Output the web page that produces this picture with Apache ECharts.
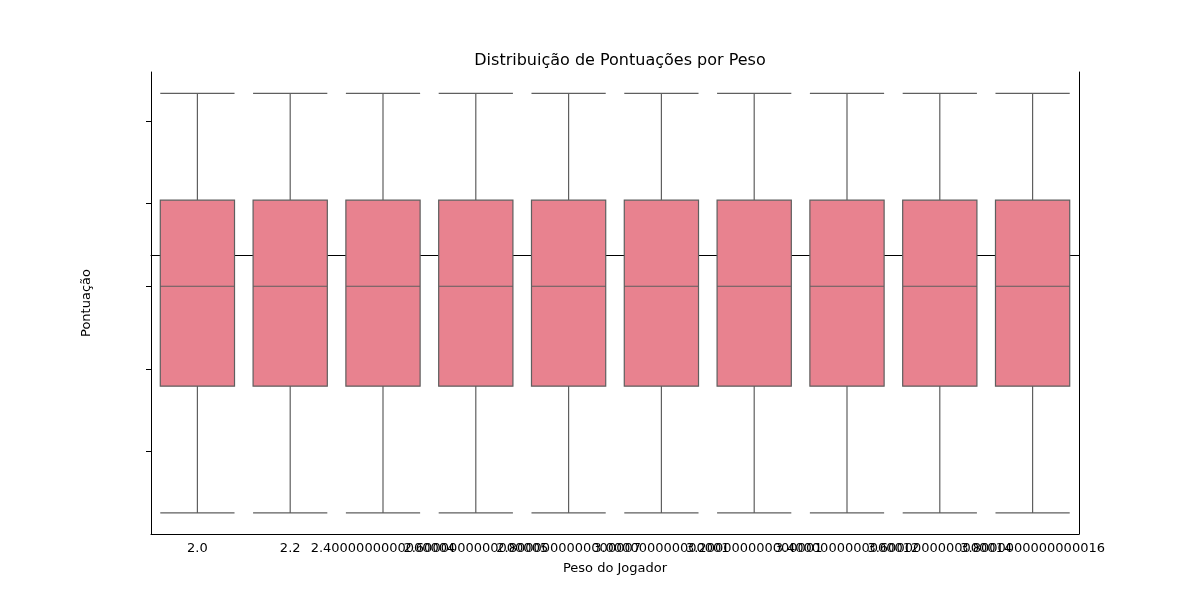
<!DOCTYPE html>
<html><head><meta charset="utf-8">
<script src="https://cdn.jsdelivr.net/npm/echarts@6/dist/echarts.min.js"></script>
<style>html,body{margin:0;background:#fff}#c{width:1200px;height:600px}</style>
</head><body><div id="c"></div>
<script>
// categorias (peso) e estatisticas de caixa
var pesos = ['2.0', '2.2', '2.4000000000000004', '2.6000000000000005', '2.8000000000000007',
    '3.000000000000001', '3.200000000000001', '3.4000000000000012', '3.6000000000000014', '3.8000000000000016'];
var minimos = [-156, -156, -156, -156, -156, -156, -156, -156, -156, -156];
var q1s = [-79.3, -79.3, -79.3, -79.3, -79.3, -79.3, -79.3, -79.3, -79.3, -79.3];
var medianas = [-18.8, -18.8, -18.8, -18.8, -18.8, -18.8, -18.8, -18.8, -18.8, -18.8];
var q3s = [33.3, 33.3, 33.3, 33.3, 33.3, 33.3, 33.3, 33.3, 33.3, 33.3];
var maximos = [98, 98, 98, 98, 98, 98, 98, 98, 98, 98];

var dados = pesos.map(function (p, i) {
    return [minimos[i], q1s[i], medianas[i], q3s[i], maximos[i]];
});

var myChart = echarts.init(document.getElementById('c'), null, {renderer: 'canvas'});
var fonte = 'DejaVu Sans';
var option = {
    animation: false,
    title: {
        text: 'Distribuição de Pontuações por Peso',
        left: 615, top: 48, textAlign: 'center',
        textStyle: {fontFamily: fonte, fontSize: 16, fontWeight: 'normal', color: '#000'}
    },
    grid: {left: 151, right: 121, top: 72, bottom: 66},
    xAxis: {
        type: 'category', data: pesos,
        name: 'Peso do Jogador', nameLocation: 'middle', nameGap: 28,
        nameTextStyle: {fontFamily: fonte, fontSize: 13, color: '#000'},
        axisLine: {lineStyle: {color: '#000'}},
        axisTick: {alignWithLabel: true, length: 5, lineStyle: {color: '#000'}},
        axisLabel: {interval: 0, hideOverlap: false, fontFamily: fonte, fontSize: 13, color: '#000', margin: 8},
        splitLine: {show: false}
    },
    yAxis: {
        type: 'value', min: -168.8, max: 110.9,
        name: 'Pontuação', nameLocation: 'middle', nameGap: 58,
        nameTextStyle: {fontFamily: fonte, fontSize: 13, color: '#000'},
        axisLine: {show: true, lineStyle: {color: '#000'}},
        axisTick: {show: true, length: 5, lineStyle: {color: '#000'}},
        axisLabel: {
            fontFamily: fonte, fontSize: 13, color: '#000',
            showMinLabel: false, showMaxLabel: false,
            formatter: function (v) {
                if (v % 50 !== 0) return '';
                return v < 0 ? '\u2212' + Math.abs(v) : String(v);
            }
        },
        interval: 50,
        splitLine: {show: false}
    },
    series: [{
        type: 'boxplot',
        data: dados,
        boxWidth: ['80%', '80%'],
        itemStyle: {color: '#e8828f', borderColor: '#5f5f5f', borderWidth: 1.2}
    }]
};
// eixo superior/direito
option.xAxis = [option.xAxis, {type: 'category', position: 'top', axisLine: {lineStyle: {color: '#000'}}, axisTick: {show: false}, axisLabel: {show: false}}];
option.yAxis = [option.yAxis, {type: 'value', position: 'right', axisLine: {show: true, lineStyle: {color: '#000'}}, axisTick: {show: false}, axisLabel: {show: false}, splitLine: {show: false}}];
myChart.setOption(option);
</script></body></html>
